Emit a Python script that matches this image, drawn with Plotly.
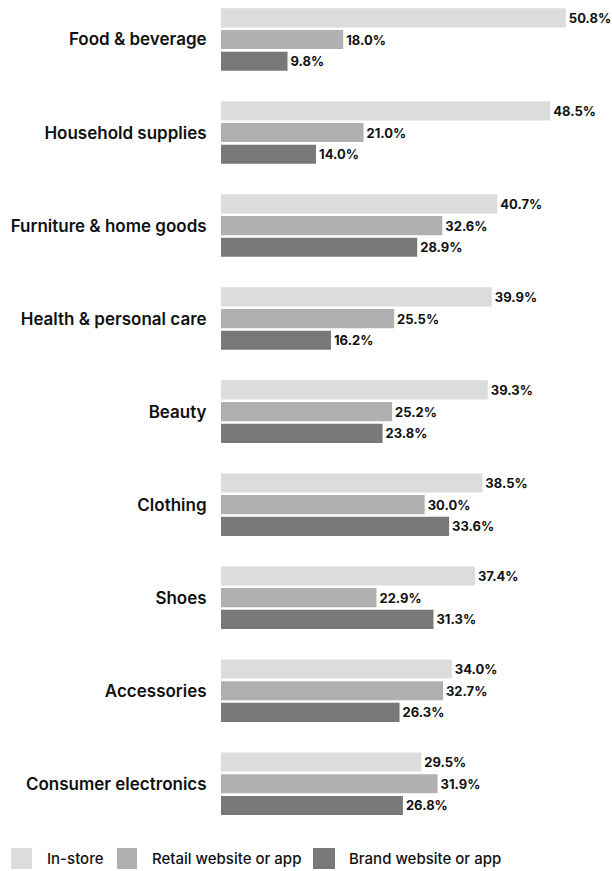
import plotly.graph_objects as go

categories = ["Food & beverage", "Household supplies", "Furniture & home goods",
              "Health & personal care", "Beauty", "Clothing", "Shoes",
              "Accessories", "Consumer electronics"]
in_store = [50.8, 48.5, 40.7, 39.9, 39.3, 38.5, 37.4, 34.0, 29.5]
retail_web = [18.0, 21.0, 32.6, 25.5, 25.2, 30.0, 22.9, 32.7, 31.9]
brand_web = [9.8, 14.0, 28.9, 16.2, 23.8, 33.6, 31.3, 26.3, 26.8]
series_names = ["In-store", "Retail website or app", "Brand website or app"]
colors = ["#dcdcdc", "#b0b0b0", "#787878"]

FONT = "Inter"
fig = go.Figure()
for name, vals, col in zip(series_names, [in_store, retail_web, brand_web], colors):
    fig.add_trace(go.Bar(
        y=categories, x=vals, orientation="h", name=name,
        marker=dict(color=col, line=dict(width=0)),
        text=[f"{v:.1f}%" for v in vals], textposition="outside",
        textfont=dict(family=FONT, size=13, color="#111111", weight=700),
        cliponaxis=False, showlegend=False,
    ))

fig.update_layout(
    width=612, height=871,
    margin=dict(l=221, r=0, t=0, b=51),
    barmode="group", bargap=0.30, bargroupgap=0.12,
    plot_bgcolor="white", paper_bgcolor="white",
    font=dict(family=FONT, color="#111111"),
    xaxis=dict(range=[0, 57.6], visible=False, fixedrange=True),
    yaxis=dict(categoryorder="array", categoryarray=categories,
               range=[8.39, -0.425], showgrid=False, zeroline=False,
               showline=False, ticks="outside", ticklen=10,
               tickcolor="rgba(0,0,0,0)",
               tickfont=dict(family=FONT, size=17, color="#111111", weight=600)),
)

# Legend (drawn manually to match the reference's large swatches)
PW, PH = 391.0, 820.0
legend_sw = [(11, 32), (117, 137), (313, 335)]
legend_tx = [47, 152, 349]
for name, col, (sx0, sx1), tx in zip(series_names, colors, legend_sw, legend_tx):
    fig.add_shape(type="rect", xref="paper", yref="paper",
                  x0=(sx0 - 221) / PW, x1=(sx1 - 221) / PW,
                  y0=-(848 - PH) / PH, y1=-(869 - PH) / PH,
                  fillcolor=col, line=dict(width=0))
    fig.add_annotation(xref="paper", yref="paper",
                       x=(tx - 221) / PW, y=-(858.5 - PH) / PH,
                       text=name, showarrow=False, xanchor="left", yanchor="middle",
                       xshift=-2,
                       font=dict(family=FONT, size=15, color="#111111", weight=500))

fig.write_html("out.html")
